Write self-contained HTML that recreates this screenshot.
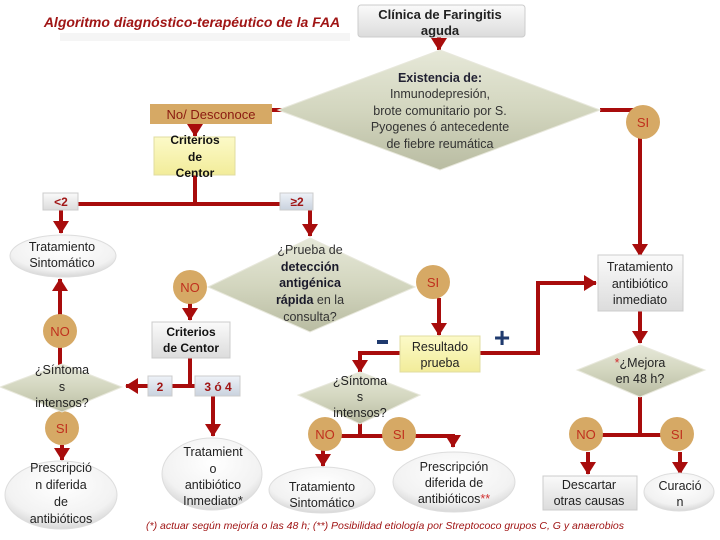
<!DOCTYPE html>
<html><head><meta charset="utf-8"><style>
html,body{margin:0;padding:0;background:#fff;}
svg{display:block;font-family:"Liberation Sans",sans-serif;}
</style></head><body>
<svg width="720" height="540" viewBox="0 0 720 540" xmlns="http://www.w3.org/2000/svg">
<defs>
<marker id="a" markerWidth="4" markerHeight="4" refX="3" refY="2" orient="auto" markerUnits="strokeWidth">
<path d="M0,0 L3.2,2 L0,4 z" fill="#A80C0C"/></marker>
<linearGradient id="dg" x1="0" y1="0" x2="0" y2="1"><stop offset="0" stop-color="#E6E8D8"/><stop offset="0.5" stop-color="#D3D6BF"/><stop offset="1" stop-color="#B9BCA2"/></linearGradient>
<linearGradient id="gb" x1="0" y1="0" x2="0" y2="1"><stop offset="0" stop-color="#FAFAFA"/><stop offset="1" stop-color="#DCDCDC"/></linearGradient>
<linearGradient id="bl" x1="0" y1="0" x2="0" y2="1"><stop offset="0" stop-color="#EEF2F8"/><stop offset="1" stop-color="#C9D2DE"/></linearGradient>
<radialGradient id="el" cx="0.5" cy="0.35" r="0.7"><stop offset="0" stop-color="#FFFFFF"/><stop offset="0.7" stop-color="#F2F2F2"/><stop offset="1" stop-color="#CFCFCF"/></radialGradient>
<linearGradient id="yl" x1="0" y1="0" x2="0" y2="1"><stop offset="0" stop-color="#FCFAC8"/><stop offset="1" stop-color="#F2EC9A"/></linearGradient>
</defs>
<g stroke="#A80C0C" stroke-width="4" fill="none">
<line x1="439" y1="37" x2="439" y2="50" marker-end="url(#a)"/>
<polyline points="600,110 643,110"/>
<line x1="640" y1="138" x2="640" y2="256" marker-end="url(#a)"/>
<line x1="272" y1="110" x2="283" y2="110"/>
<line x1="195" y1="124" x2="195" y2="136" marker-end="url(#a)"/>
<polyline points="195,175 195,204 78,204"/>
<line x1="195" y1="204" x2="281" y2="204"/>
<line x1="61" y1="210" x2="61" y2="233" marker-end="url(#a)"/>
<line x1="310" y1="210" x2="310" y2="236" marker-end="url(#a)"/>
<line x1="60" y1="315" x2="60" y2="279" marker-end="url(#a)"/>
<line x1="60" y1="345" x2="60" y2="366"/>
<line x1="190" y1="303" x2="190" y2="320" marker-end="url(#a)"/>
<polyline points="190,358 190,386 172,386"/>
<line x1="190" y1="386" x2="197" y2="386"/>
<line x1="148" y1="386" x2="126" y2="386" marker-end="url(#a)"/>
<line x1="213" y1="396" x2="213" y2="436" marker-end="url(#a)"/>
<line x1="62" y1="445" x2="62" y2="460" marker-end="url(#a)"/>
<line x1="439" y1="298" x2="439" y2="335" marker-end="url(#a)"/>
<polyline points="400,353 360,353 360,372" marker-end="url(#a)"/>
<polyline points="480,353 538,353 538,283 596,283" marker-end="url(#a)"/>
<line x1="640" y1="311" x2="640" y2="343" marker-end="url(#a)"/>
<polyline points="640,397 640,435"/>
<line x1="586" y1="435" x2="677" y2="435"/>
<line x1="588" y1="452" x2="588" y2="474" marker-end="url(#a)"/>
<line x1="680" y1="452" x2="680" y2="474" marker-end="url(#a)"/>
<polyline points="360,420 360,436"/>
<line x1="325" y1="436" x2="400" y2="436"/>
<polyline points="400,436 453,436 453,447" marker-end="url(#a)"/>
<line x1="323" y1="450" x2="323" y2="466" marker-end="url(#a)"/>
</g>
<!-- title -->
<text x="192" y="27" text-anchor="middle" font-size="14" font-weight="bold" font-style="italic" fill="#A01515">Algoritmo diagnóstico-terapéutico de la FAA</text>
<rect x="60" y="33" width="290" height="8" fill="#eee" opacity="0.6"/>
<rect x="358" y="5" width="167" height="32" rx="3" fill="url(#gb)" stroke="#ccc"/>
<text font-size="13" font-weight="bold" fill="#222" text-anchor="middle"><tspan x="440" y="19">Clínica de Faringitis</tspan><tspan x="440" y="35">aguda</tspan></text>
<!-- Existencia diamond -->
<polygon points="440,50 600,110 440,170 278,110" fill="url(#dg)" stroke="#E8E8DC"/>
<text font-size="12.5" fill="#333" text-anchor="middle"><tspan x="440" y="82" font-weight="bold" fill="#223">Existencia de:</tspan><tspan x="440" y="98">Inmunodepresión,</tspan><tspan x="440" y="115">brote comunitario por S.</tspan><tspan x="440" y="131">Pyogenes ó antecedente</tspan><tspan x="440" y="148">de fiebre reumática</tspan></text>
<!-- circles -->
<g fill="#D6A965">
<circle cx="643" cy="122" r="17"/><circle cx="190" cy="287" r="17"/><circle cx="433" cy="282" r="17"/>
<circle cx="60" cy="331" r="17"/><circle cx="62" cy="428" r="17"/><circle cx="325" cy="434" r="17"/>
<circle cx="399" cy="434" r="17"/><circle cx="586" cy="434" r="17"/><circle cx="677" cy="434" r="17"/>
</g>
<g font-size="13" fill="#C0301E" text-anchor="middle">
<text x="643" y="127">SI</text><text x="190" y="292">NO</text><text x="433" y="287">SI</text>
<text x="60" y="336">NO</text><text x="62" y="433">SI</text><text x="325" y="439">NO</text>
<text x="399" y="439">SI</text><text x="586" y="439">NO</text><text x="677" y="439">SI</text>
</g>
<!-- No/Desconoce -->
<rect x="150" y="104" width="122" height="20" fill="#D6A965"/>
<text x="211" y="119" text-anchor="middle" font-size="13" fill="#8B1A10">No/ Desconoce</text>
<rect x="154" y="137" width="81" height="38" fill="url(#yl)" stroke="#e0dca0"/>
<text font-size="12" font-weight="bold" fill="#111" text-anchor="middle"><tspan x="195" y="144">Criterios</tspan><tspan x="195" y="161">de</tspan><tspan x="195" y="177">Centor</tspan></text>
<!-- <2 and ≥2 -->
<rect x="43" y="193" width="35" height="17" fill="url(#gb)" stroke="#ccc"/>
<text x="61" y="206" text-anchor="middle" font-size="12" font-weight="bold" fill="#A01515">&lt;2</text>
<rect x="280" y="193" width="33" height="17" fill="url(#bl)" stroke="#ccc"/>
<text x="297" y="206" text-anchor="middle" font-size="12" font-weight="bold" fill="#A01515">≥2</text>
<!-- Tratamiento Sintomatico top-left -->
<ellipse cx="63" cy="256" rx="53" ry="21" fill="url(#el)" stroke="#ddd"/>
<text font-size="12.5" fill="#222" text-anchor="middle"><tspan x="62" y="251">Tratamiento</tspan><tspan x="62" y="267">Sintomático</tspan></text>
<!-- Prueba diamond -->
<polygon points="310,238 415,287 310,332 208,287" fill="url(#dg)" stroke="#E8E8DC"/>
<text font-size="12.5" fill="#333" text-anchor="middle"><tspan x="310" y="254">¿Prueba de</tspan><tspan x="310" y="271" font-weight="bold" fill="#1a1a2a">detección</tspan><tspan x="310" y="287" font-weight="bold" fill="#1a1a2a">antigénica</tspan><tspan x="310" y="304"><tspan font-weight="bold" fill="#1a1a2a">rápida</tspan> en la</tspan><tspan x="310" y="321">consulta?</tspan></text>
<!-- Criterios 2 -->
<rect x="152" y="322" width="78" height="36" fill="url(#gb)" stroke="#ccc"/>
<text font-size="12" font-weight="bold" fill="#111" text-anchor="middle"><tspan x="191" y="336">Criterios</tspan><tspan x="191" y="352">de Centor</tspan></text>
<rect x="148" y="376" width="24" height="20" fill="url(#bl)" stroke="#ccc"/>
<text x="160" y="391" text-anchor="middle" font-size="12" font-weight="bold" fill="#A01515">2</text>
<rect x="195" y="376" width="45" height="20" fill="url(#bl)" stroke="#ccc"/>
<text x="218" y="391" text-anchor="middle" font-size="12" font-weight="bold" fill="#A01515">3 ó 4</text>
<!-- left Síntomas diamond -->
<polygon points="62,364 122,387 62,412 0,387" fill="url(#dg)" stroke="#E8E8DC"/>
<text font-size="12.5" fill="#222" text-anchor="middle"><tspan x="62" y="374">¿Síntoma</tspan><tspan x="62" y="391">s</tspan><tspan x="62" y="407">intensos?</tspan></text>
<ellipse cx="61" cy="495" rx="56" ry="34" fill="url(#el)" stroke="#ddd"/>
<text font-size="12.5" fill="#222" text-anchor="middle"><tspan x="61" y="472">Prescripció</tspan><tspan x="61" y="489">n  diferida</tspan><tspan x="61" y="506">de</tspan><tspan x="61" y="523">antibióticos</tspan></text>
<ellipse cx="212" cy="474" rx="50" ry="36" fill="url(#el)" stroke="#ddd"/>
<text font-size="12.5" fill="#222" text-anchor="middle"><tspan x="213" y="456">Tratamient</tspan><tspan x="213" y="473">o</tspan><tspan x="213" y="489">antibiótico</tspan><tspan x="213" y="505">Inmediato*</tspan></text>
<!-- Resultado -->
<rect x="400" y="336" width="80" height="36" fill="url(#yl)" stroke="#e0dca0"/>
<text font-size="12.5" fill="#222" text-anchor="middle"><tspan x="440" y="351">Resultado</tspan><tspan x="440" y="367">prueba</tspan></text>
<rect x="377" y="340" width="11" height="4" fill="#1F3A6E"/>
<text x="502" y="347" text-anchor="middle" font-size="28" font-weight="bold" fill="#1F3A6E">+</text>
<!-- middle Síntomas diamond -->
<polygon points="360,372 420,395 360,424 298,395" fill="url(#dg)" stroke="#E8E8DC"/>
<text font-size="12.5" fill="#222" text-anchor="middle"><tspan x="360" y="385">¿Síntoma</tspan><tspan x="360" y="401">s</tspan><tspan x="360" y="417">intensos?</tspan></text>
<ellipse cx="322" cy="490" rx="53" ry="23" fill="url(#el)" stroke="#ddd"/>
<text font-size="12.5" fill="#222" text-anchor="middle"><tspan x="322" y="491">Tratamiento</tspan><tspan x="322" y="507">Sintomático</tspan></text>
<ellipse cx="454" cy="482" rx="61" ry="30" fill="url(#el)" stroke="#ddd"/>
<text font-size="12.5" fill="#222" text-anchor="middle"><tspan x="454" y="471">Prescripción</tspan><tspan x="454" y="487">diferida de</tspan><tspan x="454" y="503">antibióticos<tspan fill="#D03030">**</tspan></tspan></text>
<!-- right column -->
<rect x="598" y="255" width="85" height="56" fill="url(#gb)" stroke="#ccc"/>
<text font-size="12.5" fill="#222" text-anchor="middle"><tspan x="640" y="271">Tratamiento</tspan><tspan x="640" y="288">antibiótico</tspan><tspan x="640" y="304">inmediato</tspan></text>
<polygon points="640,345 705,370 640,397 577,370" fill="url(#dg)" stroke="#E8E8DC"/>
<text font-size="12.5" fill="#222" text-anchor="middle"><tspan x="640" y="367"><tspan fill="#D03030">*</tspan>¿Mejora</tspan><tspan x="640" y="383">en 48 h?</tspan></text>
<rect x="543" y="476" width="94" height="34" fill="url(#gb)" stroke="#ccc"/>
<text font-size="12.5" fill="#222" text-anchor="middle"><tspan x="589" y="489">Descartar</tspan><tspan x="589" y="505">otras causas</tspan></text>
<ellipse cx="679" cy="492" rx="35" ry="19" fill="url(#el)" stroke="#ddd"/>
<text font-size="12.5" fill="#222" text-anchor="middle"><tspan x="680" y="490">Curació</tspan><tspan x="680" y="506">n</tspan></text>
<!-- footnote -->
<text x="385" y="529" text-anchor="middle" font-size="10.5" font-style="italic" fill="#A01515">(*) actuar según mejoría o las 48 h; (**) Posibilidad etiología por Streptococo grupos C, G y anaerobios</text>
</svg>
</body></html>
